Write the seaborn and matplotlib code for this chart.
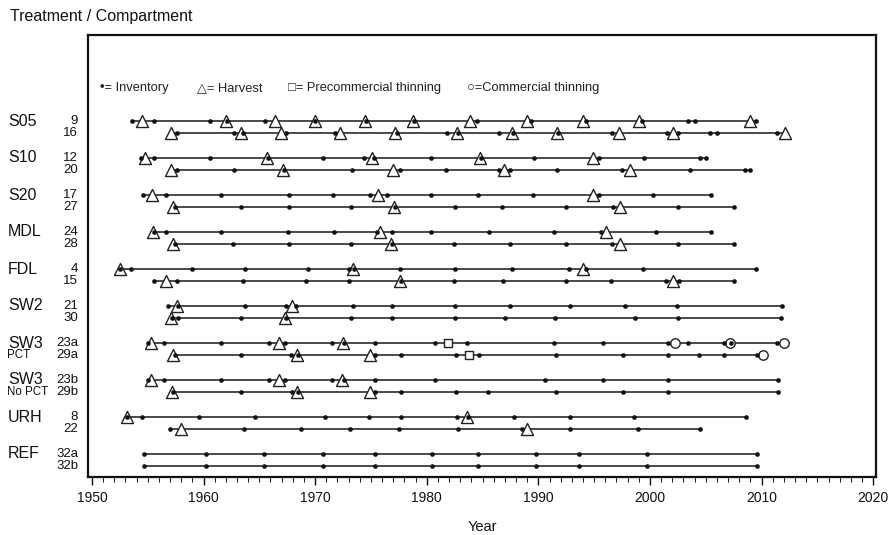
import matplotlib
matplotlib.use("Agg")
import matplotlib.pyplot as plt
from matplotlib.transforms import blended_transform_factory
from matplotlib.ticker import MultipleLocator
import pandas as pd
import seaborn as sns

# Treatments (top to bottom) and their paired compartments
treatments = ["S05", "S10", "S20", "MDL", "FDL", "SW2", "SW3", "SW3", "URH", "REF"]
treatment_notes = ["", "", "", "", "", "", "PCT", "No PCT", "", ""]
compartments = [("9", "16"), ("12", "20"), ("17", "27"), ("24", "28"), ("4", "15"),
                ("21", "30"), ("23a", "29a"), ("23b", "29b"), ("8", "22"), ("32a", "32b")]

# Inventory years per compartment
inventory = {
    "9":   [1953.6, 1955.6, 1960.6, 1962.1, 1965.5, 1970.0, 1974.6, 1978.9, 1984.5, 1989.3,
            1994.3, 1999.3, 2003.4, 2004.0, 2009.5],
    "16":  [1957.6, 1962.7, 1963.5, 1967.4, 1971.8, 1977.3, 1981.8, 1982.8, 1986.5, 1987.7,
            1991.8, 1996.6, 2001.5, 2002.5, 2005.4, 2006.0, 2011.4],
    "12":  [1954.4, 1955.6, 1960.6, 1965.8, 1970.7, 1974.4, 1975.3, 1980.4, 1984.9, 1989.6,
            1995.4, 1999.5, 2004.5, 2005.0],
    "20":  [1957.6, 1962.7, 1967.2, 1973.3, 1977.6, 1981.7, 1986.5, 1987.5, 1991.7, 1997.5,
            2003.6, 2008.5, 2009.0],
    "17":  [1954.6, 1956.6, 1961.6, 1967.7, 1971.6, 1974.9, 1976.4, 1980.4, 1984.6, 1989.5,
            1995.4, 2000.3, 2005.5],
    "27":  [1957.4, 1963.4, 1967.7, 1973.2, 1977.2, 1982.5, 1986.7, 1992.5, 1996.7, 2002.5,
            2007.5],
    "24":  [1955.6, 1956.6, 1961.6, 1967.6, 1971.7, 1975.5, 1976.9, 1980.4, 1985.6, 1991.4,
            1995.6, 2000.5, 2005.5],
    "28":  [1957.4, 1962.6, 1967.7, 1973.2, 1976.9, 1982.4, 1987.5, 1992.5, 1996.6, 2002.5,
            2007.5],
    "4":   [1952.5, 1953.5, 1959.0, 1963.7, 1969.4, 1973.0, 1973.5, 1977.6, 1982.5, 1987.6,
            1992.7, 1994.3, 1999.4, 2009.5],
    "15":  [1955.6, 1957.6, 1963.5, 1969.2, 1973.0, 1977.7, 1982.4, 1986.8, 1992.5, 1996.5,
            2001.4, 2002.6, 2007.5],
    "21":  [1956.8, 1957.7, 1963.7, 1967.4, 1968.3, 1973.4, 1976.9, 1982.5, 1987.5, 1992.8,
            1997.8, 2002.4, 2011.8],
    "30":  [1957.2, 1957.7, 1963.4, 1967.4, 1973.2, 1976.9, 1982.5, 1987.0, 1991.5, 1998.7,
            2002.5, 2011.7],
    "23a": [1955.0, 1956.5, 1961.6, 1965.9, 1967.3, 1971.5, 1972.6, 1975.4, 1980.7, 1983.6,
            1991.4, 1995.8, 2001.6, 2003.4, 2006.6, 2007.3, 2011.4],
    "29a": [1957.4, 1963.4, 1967.8, 1968.5, 1975.4, 1977.7, 1982.6, 1984.7, 1991.6, 1997.6,
            2001.6, 2004.4, 2006.6, 2009.6],
    "23b": [1955.0, 1956.5, 1961.6, 1965.9, 1967.3, 1971.5, 1972.6, 1975.4, 1980.7, 1990.6,
            1995.8, 2001.6, 2011.5],
    "29b": [1957.3, 1963.4, 1967.9, 1968.5, 1975.4, 1977.7, 1982.6, 1985.5, 1991.6, 1997.6,
            2001.6, 2011.5],
    "8":   [1953.1, 1954.5, 1959.6, 1964.6, 1970.9, 1974.8, 1977.7, 1982.7, 1983.7, 1987.8,
            1992.8, 1998.6, 2008.6],
    "22":  [1957.0, 1963.6, 1968.7, 1973.1, 1977.5, 1982.8, 1988.5, 1992.8, 1998.9, 2004.5],
    "32a": [1954.7, 1960.2, 1965.4, 1970.7, 1975.4, 1980.5, 1984.6, 1989.8, 1993.6, 1999.7,
            2009.6],
    "32b": [1954.7, 1960.2, 1965.4, 1970.7, 1975.4, 1980.5, 1984.6, 1989.8, 1993.6, 1999.7,
            2009.6],
}

# Harvest years per compartment
harvest = {
    "9":   [1954.5, 1962.0, 1966.4, 1970.0, 1974.5, 1978.8, 1983.9, 1989.0, 1994.0, 1999.0, 2009.0],
    "16":  [1957.1, 1963.4, 1966.9, 1972.2, 1977.2, 1982.7, 1987.6, 1991.7, 1997.2, 2002.1, 2012.1],
    "12":  [1954.8, 1965.7, 1975.1, 1984.8, 1994.9],
    "20":  [1957.1, 1967.1, 1977.0, 1986.9, 1998.2],
    "17":  [1955.4, 1975.6, 1994.9],
    "27":  [1957.3, 1977.1, 1997.3],
    "24":  [1955.5, 1975.8, 1996.1],
    "28":  [1957.3, 1976.8, 1997.3],
    "4":   [1952.5, 1973.4, 1994.0],
    "15":  [1956.6, 1977.6, 2002.1],
    "21":  [1957.6, 1967.9],
    "30":  [1957.1, 1967.3],
    "23a": [1955.3, 1966.8, 1972.5],
    "29a": [1957.3, 1968.4, 1974.9],
    "23b": [1955.3, 1966.8, 1972.4],
    "29b": [1957.2, 1968.4, 1974.9],
    "8":   [1953.1, 1983.6],
    "22":  [1958.0, 1989.0],
}

# Thinning years
precommercial = {"23a": [1981.9], "29a": [1983.8]}
commercial = {"23a": [2002.2, 2007.2, 2012.0], "29a": [2010.1]}

PAIR_OFFSET = 0.324

# Assemble long-form tables
rows, events = [], []
for g, pair in enumerate(compartments):
    for k, comp in enumerate(pair):
        y = g + k * PAIR_OFFSET
        all_years = (inventory.get(comp, []) + harvest.get(comp, [])
                     + precommercial.get(comp, []) + commercial.get(comp, []))
        rows.append({"comp": comp, "year": min(all_years), "y": y})
        rows.append({"comp": comp, "year": max(all_years), "y": y})
        for kind, table in (("Inventory", inventory), ("Harvest", harvest),
                            ("PCT", precommercial), ("CT", commercial)):
            for yr in table.get(comp, []):
                events.append({"comp": comp, "year": yr, "y": y, "event": kind})
lines_df = pd.DataFrame(rows)
events_df = pd.DataFrame(events)

sns.set_style("white")
plt.rcParams["font.family"] = ["Liberation Sans", "DejaVu Sans"]

fig = plt.figure(figsize=(8.91, 5.35), dpi=100)
W, H = 891, 535
ax = fig.add_axes([88 / W, 1 - 477 / H, (876 - 88) / W, (477 - 35) / H])

sns.lineplot(data=lines_df, x="year", y="y", units="comp", estimator=None,
             sort=False, color="#3c3c3c", linewidth=1.3, ax=ax, legend=False)

open_style = dict(facecolor="white", edgecolor="#222222", linewidth=1.0, zorder=3, legend=False)
sns.scatterplot(data=events_df[events_df.event == "Harvest"], x="year", y="y",
                marker="^", s=75, ax=ax, **open_style)
sns.scatterplot(data=events_df[events_df.event == "PCT"], x="year", y="y",
                marker="s", s=40, ax=ax, **open_style)
sns.scatterplot(data=events_df[events_df.event == "CT"], x="year", y="y",
                marker="o", s=46, ax=ax, **open_style)
sns.scatterplot(data=events_df[events_df.event == "Inventory"], x="year", y="y",
                marker="o", s=9, color="#111111", edgecolor="#111111", linewidth=0.3,
                zorder=4, ax=ax, legend=False)

# Axes frame, limits and ticks
def px_to_y(py):
    return (py - 121) / 37.0

ax.set_xlim(1949.65, 2020.25)
ax.set_ylim(px_to_y(477), px_to_y(35))
ax.set_yticks([])
ax.set_ylabel("")
ax.xaxis.set_major_locator(MultipleLocator(10))
ax.xaxis.set_minor_locator(MultipleLocator(1))
ax.tick_params(axis="x", which="major", direction="out", length=6, width=1.0,
               bottom=True, labelsize=10, pad=4, colors="#111111")
ax.tick_params(axis="x", which="minor", direction="out", length=3.5, width=0.8, bottom=True)
for sp in ax.spines.values():
    sp.set_visible(True)
    sp.set_linewidth(1.6)
    sp.set_color("#111111")
ax.set_xlabel("Year", fontsize=10.5, labelpad=11, color="#111111")

# Key inside the plot
key_y = px_to_y(88)
key_items = [(100, "•= Inventory"), (197, "△= Harvest"), (288, "□= Precommercial thinning"),
             (467, "○=Commercial thinning")]
trans_key = blended_transform_factory(fig.transFigure, ax.transData)
for px, label in key_items:
    ax.text(px / W, key_y, label, transform=trans_key, fontsize=9.3, va="center",
            ha="left", color="#222222")

# Row labels on the left margin
for g, (name, note, pair) in enumerate(zip(treatments, treatment_notes, compartments)):
    ax.text(8 / W, g, name, transform=trans_key, fontsize=11.5, va="center", ha="left",
            color="#111111", clip_on=False)
    for k, comp in enumerate(pair):
        ax.text(78 / W, g + k * PAIR_OFFSET, comp, transform=trans_key, fontsize=9.5,
                va="center", ha="right", color="#111111", clip_on=False)
    if note:
        ax.text(7 / W, g + PAIR_OFFSET, note, transform=trans_key, fontsize=8.3,
                va="center", ha="left", color="#111111", clip_on=False)

fig.text(10 / W, 1 - 17 / H, "Treatment / Compartment", fontsize=11.5, va="center",
         ha="left", color="#111111")

fig.savefig("out.png", dpi=100)
